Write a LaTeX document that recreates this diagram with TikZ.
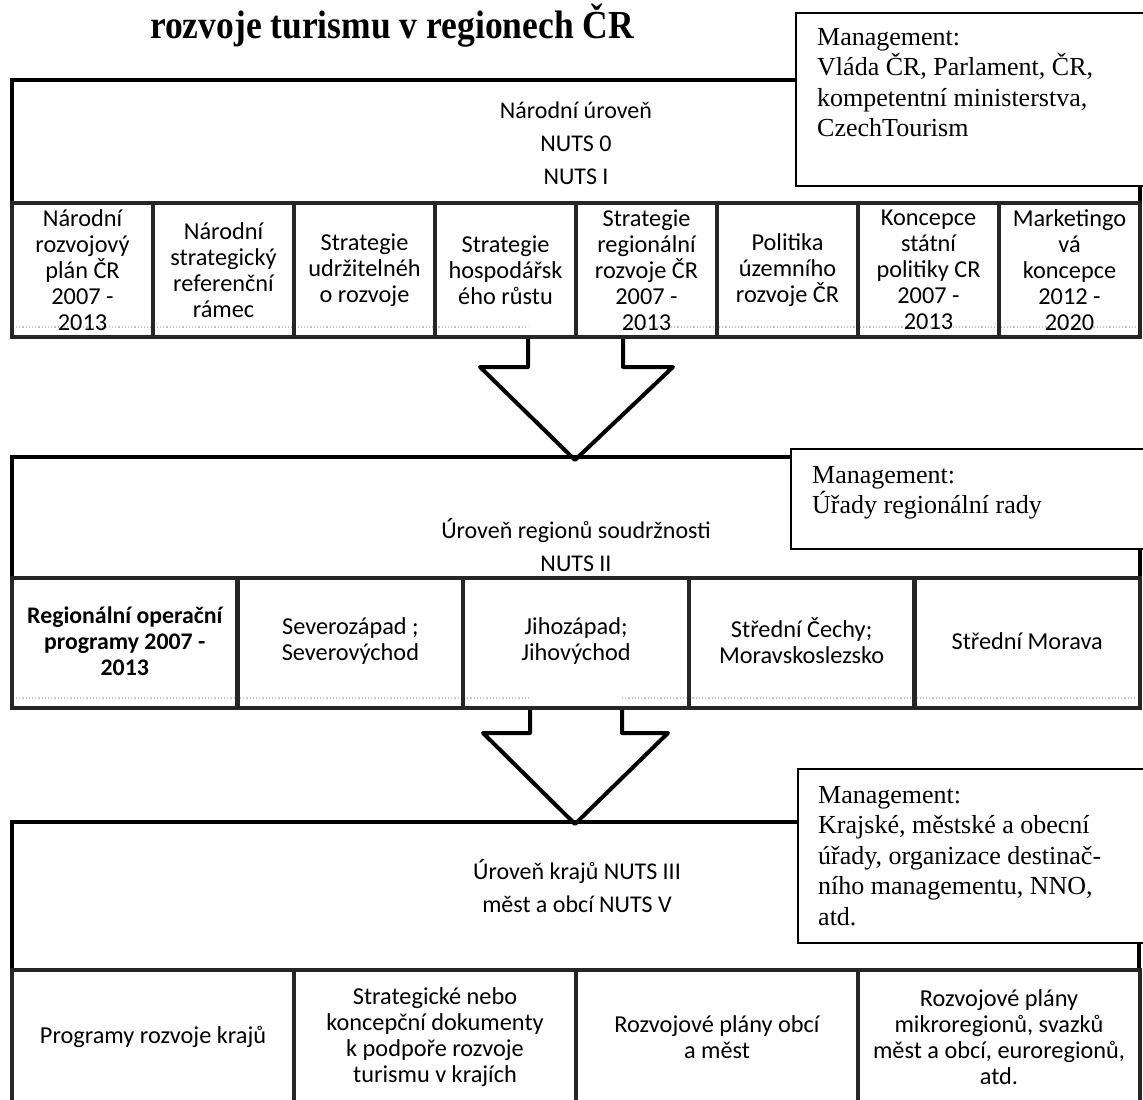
\documentclass[tikz,border=0pt]{standalone}
\usepackage{fontspec}
\setmainfont{Carlito}
\newfontfamily\tms{Liberation Serif}
\begin{document}
\begin{tikzpicture}[x=1pt,y=-1pt,
  cellbox/.style={draw=black!85, line width=4.5pt, inner sep=0pt},
  celltext/.style={inner sep=0pt, align=center, font=\fontsize{24.3}{26}\selectfont},
  mgmtbox/.style={draw=black, line width=1.8pt, fill=white},
  mtext/.style={anchor=north west, inner sep=0pt, align=left,
    font=\tms\fontsize{26}{30.5}\selectfont},
  frameline/.style={draw=black, line width=4.5pt},
  lvl/.style={inner sep=0pt, align=center, font=\fontsize{24}{33}\selectfont},
  barrow/.style={draw=black, fill=white, line width=4pt, line join=round},
  faint/.style={draw=gray!45, dotted, line width=1.2pt}]
\useasboundingbox (0,0) rectangle (1143,1100);
\clip (0,0) rectangle (1143,1100);
\fill[white] (0,0) rectangle (1143,1100);

% title
\node[font=\tms\bfseries\fontsize{35.5}{40}\selectfont, anchor=base, inner sep=0pt]
  (title) at (392,38) {\scalebox{1}[1.12]{rozvoje turismu v regionech ČR}};

% block arrows (drawn first, under the frames)
\coordinate (a1tip) at (575,460);
\draw[barrow] (528,337) -- (528,367) -- (480,367) -- (a1tip) -- (673,367) -- (623,367) -- (623,337);
\coordinate (a2tip) at (575,824);
\draw[barrow] (530,708) -- (530,733) -- (483,733) -- (a2tip) -- (668,733) -- (622,733) -- (622,708);

% ---------- level 1 ----------
\node[mgmtbox, anchor=north west, minimum width=380pt, minimum height=173pt, inner sep=0pt]
  (m1) at (795,12) {};
\node[mtext] (m1t) at (817,25) {\rule{0pt}{20pt}Management:\\Vláda ČR, Parlament, ČR,\\kompetentní ministerstva,\\CzechTourism};
\draw[frameline] (m1.west |- 0,80) -- (12,80) -- (12,203);
\draw[frameline] (1140,185) -- (1140,203);
\node[lvl] (l1) at (576,143) {Národní úroveň\\NUTS 0\\NUTS I};

\draw[faint] (16,327) -- (528,327) (623,327) -- (1136,327);
\begin{scope}[every node/.style={cellbox, minimum width=141pt, minimum height=134pt}]
\node (c11) at (82.5,270) {};
\node (c12) at (223.5,270) {};
\node (c13) at (364.5,270) {};
\node (c14) at (505.5,270) {};
\node (c15) at (646.5,270) {};
\node (c16) at (787.5,270) {};
\node (c17) at (928.5,270) {};
\node (c18) at (1069.5,270) {};
\end{scope}
\begin{scope}[every node/.style={celltext}]
\node (t11) at (c11) {Národní\\rozvojový\\plán ČR\\2007 -\\2013};
\node (t12) at (c12) {Národní\\strategický\\referenční\\rámec};
\node (t13) at (c13) {Strategie\\udržitelnéh\\o rozvoje};
\node (t14) at (c14) {Strategie\\hospodářsk\\ého růstu};
\node (t15) at (c15) {Strategie\\regionální\\rozvoje ČR\\2007 -\\2013};
\node (t16) at (c16) {Politika\\územního\\rozvoje ČR};
\node (t17) at (c17) {Koncepce\\státní\\politiky CR\\2007 -\\2013};
\node (t18) at (c18) {Marketingo\\vá\\koncepce\\2012 -\\2020};
\end{scope}

% ---------- level 2 ----------
\node[mgmtbox, anchor=north west, minimum width=380pt, minimum height=100pt, inner sep=0pt]
  (m2) at (790,448) {};
\node[mtext] (m2t) at (812,463) {\rule{0pt}{20pt}Management:\\Úřady regionální rady};
\draw[frameline] (m2.west |- 0,457) -- (12,457) -- (12,578);
\draw[frameline] (1140,548) -- (1140,578);
\node[lvl] (l2) at (576,545) {Úroveň regionů soudržnosti\\NUTS II};

\draw[faint] (16,698) -- (530,698) (622,698) -- (1136,698);
\begin{scope}[every node/.style={cellbox, minimum width=225.6pt, minimum height=130pt}]
\node (c21) at (124.8,643) {};
\node (c22) at (350.4,643) {};
\node (c23) at (576,643) {};
\node (c24) at (801.6,643) {};
\node (c25) at (1027.2,643) {};
\end{scope}
\begin{scope}[every node/.style={celltext}]
\node[font=\bfseries\fontsize{23.8}{26}\selectfont] (t21) at (124.8,641) {Regionální operační\\programy 2007 -\\2013};
\node (t22) at (350.4,641) {Severozápad ;\\Severovýchod};
\node (t23) at (576,641) {Jihozápad;\\Jihovýchod};
\node (t24) at (801.6,641) {Střední Čechy;\\Moravskoslezsko};
\node (t25) at (1027.2,641) {Střední Morava};
\end{scope}

% ---------- level 3 ----------
\node[mgmtbox, anchor=north west, minimum width=380pt, minimum height=174pt, inner sep=0pt]
  (m3) at (797,768) {};
\node[mtext] (m3t) at (818,783) {\rule{0pt}{20pt}Management:\\Krajské, městské a obecní\\úřady, organizace destinač-\\ního managementu, NNO,\\atd.};
\draw[frameline] (m3.west |- 0,822) -- (12,822) -- (12,970);
\draw[frameline] (1139,942) -- (1139,970);
\node[lvl] (l3) at (577,886) {Úroveň krajů NUTS III\\měst a obcí NUTS V};

\begin{scope}[every node/.style={cellbox, minimum width=282pt, minimum height=180pt}]
\node (c31) at (153,1060) {};
\node (c32) at (435,1060) {};
\node (c33) at (717,1060) {};
\node (c34) at (999,1060) {};
\end{scope}
\begin{scope}[every node/.style={celltext}]
\node (t31) at (153,1037) {Programy rozvoje krajů};
\node (t32) at (435,1037) {Strategické nebo\\koncepční dokumenty\\k podpoře rozvoje\\turismu v krajích};
\node (t33) at (717,1037) {Rozvojové plány obcí\\a měst};
\node (t34) at (999,1037) {Rozvojové plány\\mikroregionů, svazků\\měst a obcí, euroregionů,\\atd.};
\end{scope}
\end{tikzpicture}
\end{document}
